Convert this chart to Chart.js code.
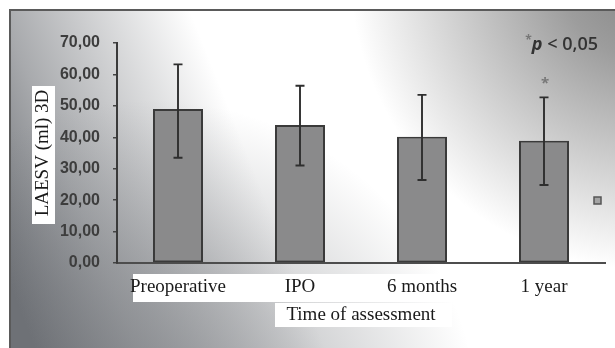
<!DOCTYPE html>
<html>
<head>
<meta charset="utf-8">
<script src="https://cdn.jsdelivr.net/npm/chart.js@4.4.1/dist/chart.umd.min.js"></script>
<style>
  html, body { margin: 0; padding: 0; background: #fff; }
  #wrap { width: 615px; height: 348px; position: relative; }
</style>
</head>
<body>
<div id="wrap"><canvas id="chart"></canvas></div>
<script>
// data
const categories = ['Preoperative', 'IPO', '6 months', '1 year']
const meanValues = [49.0, 43.9, 40.2, 38.9]
const errorLow = [33.5, 31.0, 26.4, 24.8]
const errorHigh = [63.2, 56.4, 53.5, 52.7]
const yTickLabels = ['0,00', '10,00', '20,00', '30,00', '40,00', '50,00', '60,00', '70,00']
const significant = [false, false, false, true]

const serif = "'Liberation Serif', 'Times New Roman', serif"

// gray shaded panel + white label boxes
const backdrop = {
  id: 'backdrop',
  beforeDraw(chart) {
    const ctx = chart.ctx
    const w = chart.width, h = chart.height
    ctx.save()
    ctx.fillStyle = '#ffffff'
    ctx.fillRect(0, 0, w, h)

    // left / bottom-left darkening
    let g = ctx.createLinearGradient(0, 260, 250, 160)
    g.addColorStop(0, 'rgba(110,113,118,1)')
    g.addColorStop(0.35, 'rgba(110,113,118,0.6)')
    g.addColorStop(1, 'rgba(110,113,118,0)')
    ctx.fillStyle = g
    ctx.fillRect(10, 10, w - 10, h - 10)

    // bottom band
    g = ctx.createRadialGradient(150, 430, 0, 150, 430, 330)
    g.addColorStop(0, 'rgba(110,113,118,0.6)')
    g.addColorStop(0.5, 'rgba(110,113,118,0.35)')
    g.addColorStop(1, 'rgba(110,113,118,0)')
    ctx.fillStyle = g
    ctx.fillRect(10, 10, w - 10, h - 10)

    // top-right darkening
    g = ctx.createRadialGradient(650, -30, 0, 650, -30, 300)
    g.addColorStop(0, 'rgba(115,115,115,0.9)')
    g.addColorStop(0.3, 'rgba(115,115,115,0.7)')
    g.addColorStop(1, 'rgba(115,115,115,0)')
    ctx.fillStyle = g
    ctx.fillRect(10, 10, w - 10, h - 10)

    // frame
    ctx.strokeStyle = '#5a5a5a'
    ctx.lineWidth = 2
    ctx.beginPath()
    ctx.moveTo(10, h)
    ctx.lineTo(10, 10)
    ctx.lineTo(w, 10)
    ctx.stroke()

    // white boxes behind the axis texts
    ctx.fillStyle = '#ffffff'
    ctx.fillRect(133, 274, 439, 28)
    ctx.fillRect(275, 303, 177, 24)
    ctx.fillRect(32, 86, 23, 138)
    ctx.restore()
  }
}

// error bars, significance marks, note
const extras = {
  id: 'extras',
  afterDatasetsDraw(chart) {
    const ctx = chart.ctx
    const x = chart.scales.x, y = chart.scales.y
    ctx.save()
    ctx.strokeStyle = '#2e2e2e'
    ctx.lineWidth = 1.9
    categories.forEach((c, i) => {
      const px = x.getPixelForValue(i)
      const top = y.getPixelForValue(errorHigh[i])
      const bot = y.getPixelForValue(errorLow[i])
      ctx.beginPath()
      ctx.moveTo(px, top); ctx.lineTo(px, bot)
      ctx.moveTo(px - 4.5, top); ctx.lineTo(px + 4.5, top)
      ctx.moveTo(px - 4.5, bot); ctx.lineTo(px + 4.5, bot)
      ctx.stroke()
      if (significant[i]) {
        ctx.fillStyle = '#777'
        ctx.font = "bold 15px 'Open Sans', sans-serif"
        ctx.textAlign = 'center'
        ctx.textBaseline = 'middle'
        ctx.fillText('*', px + 1, top - 14)
      }
    })

    // p-value note
    ctx.fillStyle = '#333'
    ctx.textBaseline = 'alphabetic'
    ctx.textAlign = 'right'
    ctx.font = "600 18px 'Open Sans', sans-serif"
    ctx.fillText('< 0,05', 598, 50)
    const restW = ctx.measureText('< 0,05').width
    ctx.font = "italic bold 18px 'Open Sans', sans-serif"
    ctx.fillText('p ', 598 - restW, 50)
    const pW = ctx.measureText('p ').width
    ctx.fillStyle = '#777'
    ctx.font = "bold 12px 'Open Sans', sans-serif"
    ctx.fillText('*', 598 - restW - pW, 44)

    // stray legend key
    ctx.fillStyle = '#a4a4a4'
    ctx.fillRect(594, 197, 7, 7)
    ctx.strokeStyle = '#555'
    ctx.lineWidth = 1.5
    ctx.strokeRect(594, 197, 7, 7)
    ctx.restore()
  }
}

new Chart(document.getElementById('chart'), {
  type: 'bar',
  data: {
    labels: categories,
    datasets: [{
      label: '',
      data: meanValues,
      backgroundColor: '#8a8a8b',
      borderColor: '#3a3a3a',
      borderWidth: 2,
      borderSkipped: false,
      categoryPercentage: 1,
      barPercentage: 0.41
    }]
  },
  options: {
    responsive: true,
    maintainAspectRatio: false,
    animation: false,
    layout: { padding: { left: 0, right: 10, top: 43, bottom: 0 } },
    plugins: {
      legend: { display: false },
      tooltip: { enabled: false }
    },
    scales: {
      x: {
        grid: { display: false, drawTicks: false },
        border: { display: true, color: '#4d4d4d', width: 2 },
        ticks: {
          color: '#1a1a1a',
          font: { family: serif, size: 19 },
          padding: 13,
          maxRotation: 0,
          autoSkip: false
        },
        title: {
          display: true,
          text: 'Time of assessment',
          color: '#1a1a1a',
          font: { family: serif, size: 19 },
          padding: { top: 0, bottom: 22 }
        },
        afterFit: s => { s.height = 85 }
      },
      y: {
        min: 0,
        max: 70,
        grid: { display: true, drawOnChartArea: false, drawTicks: true, tickLength: 4, color: '#444', lineWidth: 1.5 },
        border: { display: true, color: '#3a3a3a', width: 2 },
        ticks: {
          stepSize: 10,
          color: '#3d3d3d',
          font: { family: "'Liberation Sans', Arial, sans-serif", size: 16, weight: 'bold' },
          padding: 13,
          callback: (v, i) => yTickLabels[i]
        },
        title: {
          display: true,
          text: 'LAESV (ml) 3D',
          color: '#1a1a1a',
          font: { family: serif, size: 19 },
          padding: { top: 32, bottom: 0 }
        },
        afterFit: s => { s.width = 117 }
      }
    }
  },
  plugins: [backdrop, extras]
})
</script>
</body>
</html>
